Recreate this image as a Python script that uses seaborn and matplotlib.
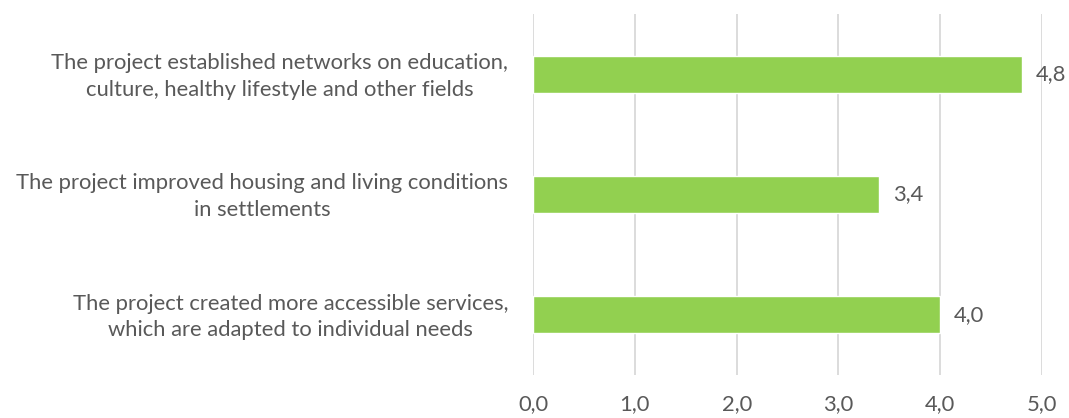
import matplotlib
matplotlib.use("Agg")
import matplotlib.pyplot as plt
from matplotlib.transforms import offset_copy
import seaborn as sns
import pandas as pd

categories = [
    "The project established networks on education,\nculture, healthy lifestyle and other fields",
    "The project improved housing and living conditions\nin settlements",
    "The project created more accessible services,\nwhich are adapted to individual needs",
]
scores = [4.8, 3.4, 4.0]
x_ticks = [0, 1, 2, 3, 4, 5]

df = pd.DataFrame({"item": categories, "score": scores})

sns.set_style("white")
plt.rcParams["font.family"] = ["Lato", "DejaVu Sans"]
text_col = "#595959"
fs = 15.8

fig = plt.figure(figsize=(10.69, 4.18), dpi=100)
ax = fig.add_axes([0.4986, 0.103, 0.4762, 0.8635])

sns.barplot(data=df, y="item", x="score", color="#92D050", saturation=1,
            width=0.31, ax=ax, orient="h")

ax.set_xlim(0, 5)
ax.set_ylim(2.5, -0.5)
ax.set_xticks(x_ticks)
ax.set_xticklabels([f"{v:.1f}".replace(".", ",") for v in x_ticks])
ax.grid(axis="x", color="#d9d9d9", lw=1.3)
ax.set_axisbelow(True)
for s in ax.spines.values():
    s.set_visible(False)
ax.tick_params(axis="x", length=0, pad=14, labelsize=fs, labelcolor=text_col)
ax.tick_params(axis="y", length=0, pad=18, labelsize=fs, labelcolor=text_col)
for lbl in ax.get_yticklabels():
    lbl.set_horizontalalignment("center")
    lbl.set_multialignment("center")
    lbl.set_linespacing(1.4)
ax.set_xlabel("")
ax.set_ylabel("")

for c in ax.containers:
    ax.bar_label(c, labels=[f"{v:.1f}".replace(".", ",") for v in scores],
                 padding=10, fontsize=fs, color=text_col)

fig.canvas.draw()
# shift centred y labels so their right edge sits near the axis
renderer = fig.canvas.get_renderer()
for lbl in ax.get_yticklabels():
    bb = lbl.get_window_extent(renderer)
    lbl.set_transform(offset_copy(lbl.get_transform(), fig=fig, x=-bb.width / 2,
                                  y=3, units="dots"))

fig.savefig("out.png", dpi=100)
